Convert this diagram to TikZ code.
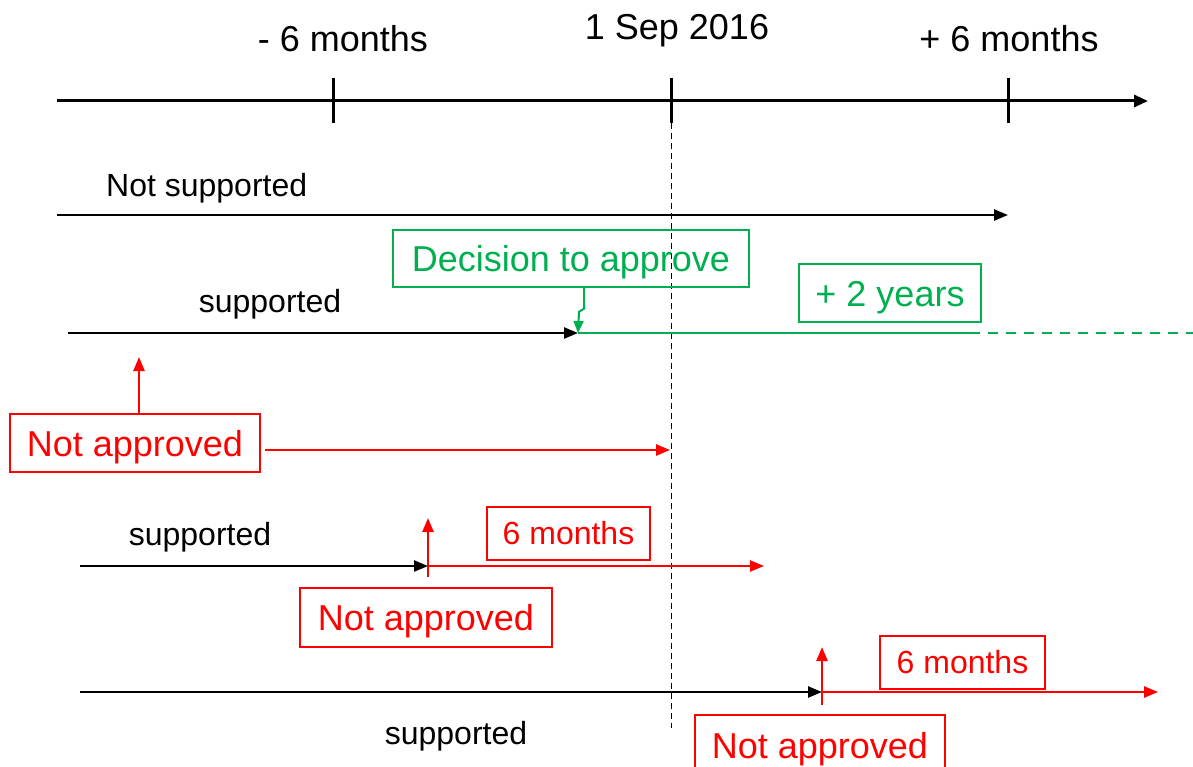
\documentclass[tikz,border=0pt]{standalone}
\usepackage{fontspec}
\setmainfont{Liberation Sans}
\usetikzlibrary{arrows.meta}
\definecolor{grn}{RGB}{0,176,80}
\definecolor{rd}{RGB}{255,0,0}
\begin{document}
\begin{tikzpicture}[x=1pt,y=-1pt,
  tipa/.style={-{Triangle[length=14pt,width=11pt]}},
  axisline/.style={line width=3pt},
  blkline/.style={line width=2.5pt, tipa},
  redline/.style={rd, line width=2.5pt, tipa},
  grnline/.style={grn, line width=2.5pt},
  lbl/.style={font=\fontsize{32}{36}\selectfont, inner sep=0pt},
  toplbl/.style={font=\fontsize{36}{40}\selectfont, inner sep=0pt},
  boxbase/.style={draw, line width=1.5pt, inner sep=0pt},
  redbox/.style={boxbase, rd, text=rd, font=\fontsize{36}{40}\selectfont, text height=26pt, text depth=0pt},
  redsmall/.style={boxbase, rd, text=rd, font=\fontsize{32}{36}\selectfont},
  grnbox/.style={boxbase, grn, text=grn, font=\fontsize{36}{40}\selectfont, text height=26pt, text depth=0pt}
]
\fill[white] (0,0) rectangle (1193,767);
\useasboundingbox (0,0) rectangle (1193,767);

% main axis
\coordinate (ax0) at (57,101);
\coordinate (ax1) at (1148,101);
\draw[axisline, -{Triangle[length=14pt,width=12pt]}] (ax0) -- (ax1);
\draw[axisline] (333,78) -- (333,123);
\draw[axisline] (671,78) -- (671,123);
\draw[axisline] (1008,78) -- (1008,123);
\node[toplbl, anchor=base] (tm6) at (343,52) {- 6 months};
\node[toplbl, anchor=base] (tdate) at (677,40) {1 Sep 2016};
\node[toplbl, anchor=base] (tp6) at (1009,52) {+ 6 months};

% reference date dashed line
\draw[line width=1pt, dash pattern=on 6pt off 4pt] (671,123) -- (671,728);

% row 1
\coordinate (r1a) at (57,215);
\coordinate (r1b) at (1008,215);
\draw[blkline] (r1a) -- (r1b);
\node[lbl, anchor=base west] (ns) at (106,197) {Not supported};

% row 2
\coordinate (r2a) at (68,333);
\coordinate (r2b) at (578,333);
\coordinate (r2c) at (970,333);
\coordinate (r2d) at (1193,333);
\draw[blkline] (r2a) -- (r2b);
\draw[grnline] (r2b) -- (r2c);
\draw[grnline, dash pattern=on 10pt off 8pt] (r2c) -- (r2d);
\node[lbl, anchor=base] (s2) at (270,312) {supported};
\node[grnbox, minimum width=356pt, minimum height=57pt] (dec) at (571,258.5) {Decision to approve};
\node[grnbox, minimum width=182pt, minimum height=58pt] (two) at (890,293) {+ 2 years};
\draw[grn, line width=2pt, -{Triangle[length=12pt,width=10pt]}]
  ([xshift=13pt]dec.south) -- ++(0,21) -- ++(-5,3) -- (r2b);

% row 3
\node[redbox, minimum width=250pt, minimum height=58pt] (na1) at (135,443) {Not approved};
\coordinate (r3up) at (139,357);
\coordinate (r3a) at (265,450);
\coordinate (r3b) at (670,450);
\draw[redline] ([xshift=4pt]na1.north) -- (r3up);
\draw[redline] (r3a) -- (r3b);

% row 4
\coordinate (r4a) at (80,566);
\coordinate (r4b) at (428,566);
\coordinate (r4c) at (764,566);
\coordinate (r4lo) at (428,577);
\coordinate (r4up) at (428,518);
\draw[blkline] (r4a) -- (r4b);
\draw[redline] (r4lo) -- (r4up);
\draw[redline] (r4b) -- (r4c);
\node[lbl, anchor=base] (s4) at (200,545) {supported};
\node[redsmall, minimum width=163pt, minimum height=53pt] (m4) at (568.5,533.5) {6 months};
\node[redbox, minimum width=252pt, minimum height=59pt] (na4) at (426,617.5) {Not approved};

% row 5
\coordinate (r5a) at (80,692);
\coordinate (r5b) at (822,692);
\coordinate (r5c) at (1158,692);
\coordinate (r5lo) at (822,705);
\coordinate (r5up) at (822,647);
\draw[blkline] (r5a) -- (r5b);
\draw[redline] (r5lo) -- (r5up);
\draw[redline] (r5b) -- (r5c);
\node[lbl, anchor=base] (s5) at (456,744) {supported};
\node[redsmall, minimum width=165pt, minimum height=53pt] (m5) at (962.5,662.5) {6 months};
\node[redbox, minimum width=250pt, minimum height=60pt] (na5) at (820,745) {Not approved};
\end{tikzpicture}
\end{document}
